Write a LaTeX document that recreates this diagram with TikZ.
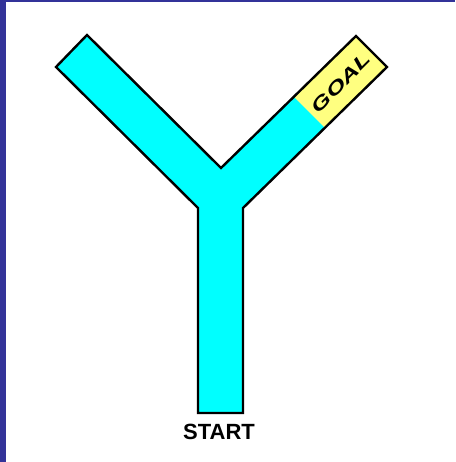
\documentclass[tikz,border=0pt]{standalone}
\usepackage{fontspec}
\setmainfont{Liberation Sans}
\definecolor{frameblue}{RGB}{51,51,153}
\definecolor{pathcyan}{RGB}{0,255,255}
\definecolor{goalyellow}{RGB}{255,255,128}
\tikzset{
  outline/.style={draw=black, line width=2.4pt, line join=miter},
  lbl/.style={inner sep=0pt, font=\bfseries},
}
\begin{document}
\begin{tikzpicture}[x=1pt, y=-1pt]
\useasboundingbox (0,0) rectangle (455,462);
\fill[white] (0,0) rectangle (455,462);
\fill[frameblue] (0,0) rectangle (6,462);
\fill[frameblue] (0,0) rectangle (455,2);
% Y shape corners
\coordinate (A) at (56,67);
\coordinate (B) at (87,35);
\coordinate (C) at (221,168);
\coordinate (D) at (356,36);
\coordinate (E) at (387,67);
\coordinate (F) at (243,208);
\coordinate (G) at (243,413);
\coordinate (H) at (198,413);
\coordinate (I) at (198,208);
\coordinate (P) at (294,97);
\coordinate (Q) at (325,128);
\fill[pathcyan] (A) -- (B) -- (C) -- (D) -- (E) -- (F) -- (G) -- (H) -- (I) -- cycle;
\fill[goalyellow] (P) -- (D) -- (E) -- (Q) -- cycle;
\draw[outline] (A) -- (B) -- (C) -- (D) -- (E) -- (F) -- (G) -- (H) -- (I) -- cycle;
\node[lbl, font=\fontsize{22}{25}\selectfont\bfseries] (start) at (219,432) {START};
\node[lbl, rotate=45, font=\fontsize{18}{21}\selectfont\bfseries\itshape] (goal) at (341,83) {\scalebox{1.45}[1]{GOAL}};
\end{tikzpicture}
\end{document}
